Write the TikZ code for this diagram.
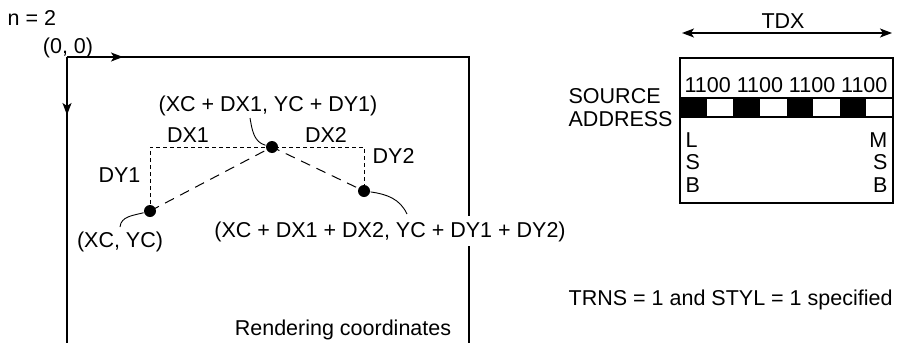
\documentclass[tikz,border=0pt]{standalone}
\usepackage{xcolor}
\usepackage{fontspec}
\setmainfont{Liberation Sans}
\usepackage{tikz}
\usetikzlibrary{arrows.meta, calc, positioning}

\begin{document}
\begin{tikzpicture}[x=1pt, y=1pt, line width=1.3pt,
  lbl/.style={inner sep=0pt, font=\fontsize{21.5}{23}\selectfont},
  dot/.style={circle, fill=black, inner sep=0pt, minimum size=12pt},
  fine/.style={line width=1pt, dash pattern=on 4pt off 3pt},
  longdash/.style={line width=1pt, dash pattern=on 10pt off 7pt},
  lead/.style={line width=0.9pt},
  tip/.style={-{Stealth[length=12pt, width=9pt, inset=3pt]}}]

\useasboundingbox (0,0) rectangle (897,-343);

% Rendering frame
\coordinate (org) at (67,-57);
\draw (org) -- (469,-57) -- (469,-343);
\draw (org) -- (67,-343);
\draw[tip] (org) -- (123,-57);
\draw[tip] (org) -- (67,-115);
\node[lbl, anchor=base west] (nlbl) at (7,-25) {n = 2};
\node[lbl, anchor=base] (olbl) at (68,-53) {(0, 0)};

% Points
\node[dot] (xc) at (150,-211) {};
\node[dot] (mid) at (272,-147) {};
\node[dot] (end) at (364,-191) {};
\coordinate (c1) at (xc |- mid);
\coordinate (c2) at (end |- mid);
\draw[fine] (xc.center) -- (c1) -- (c2) -- (end.center);
\draw[longdash] (xc.center) -- (mid.center) -- (end.center);

\node[lbl, anchor=base] (dx1) at (188,-142) {DX1};
\node[lbl, anchor=base] (dx2) at (326,-142) {DX2};
\node[lbl, anchor=base east] (dy1) at (141,-182) {DY1};
\node[lbl, anchor=base west] (dy2) at (372,-163) {DY2};

\node[lbl, anchor=base] (pmid) at (268,-111) {(XC + DX1, YC + DY1)};
\node[lbl, anchor=base] (pxc) at (120,-247) {(XC, YC)};
\node[lbl, anchor=base, fill=white, inner ysep=5pt] (pend) at (390,-237)
  {(XC + DX1 + DX2, YC + DY1 + DY2)};
\node[lbl, anchor=base] (rend) at (343,-335) {Rendering coordinates};

% Leaders
\coordinate (lm) at (250,-118);
\coordinate (lx) at (120,-227);
\coordinate (le) at (407,-214);
\draw[lead] (lm) to[out=-80, in=165] (mid);
\draw[lead] (xc) to[out=195, in=85] (lx);
\draw[lead] (end) to[out=-8, in=115] (le);

% Source address
\coordinate (tl) at (682,-33);
\coordinate (tr) at (892,-33);
\draw[{Stealth[length=12pt, width=9pt, inset=3pt]}-{Stealth[length=12pt, width=9pt, inset=3pt]}] (tl) -- (tr);
\node[lbl, anchor=base] (tdx) at (783,-28) {TDX};
\draw (680,-58) rectangle (893,-203);
\node[lbl, anchor=base] (bits) at (786,-92) {1100 1100 1100 1100};
\draw (680,-98) rectangle (893,-117);
\foreach \i in {0,2,4,6}
  \fill (680+26.625*\i,-98) rectangle ++(26.625,-19);
\node[lbl, anchor=base west] (src) at (568,-103) {SOURCE};
\node[lbl, anchor=base west] (addr) at ($(src.base west)+(0,-23)$) {ADDRESS};
\foreach \c [count=\i] in {L,S,B}
  \node[lbl, anchor=base west] (lsb\i) at (685,-147-22.5*\i+22.5) {\c};
\foreach \c [count=\i] in {M,S,B}
  \node[lbl, anchor=base east] (msb\i) at (888,-147-22.5*\i+22.5) {\c};

\node[lbl, anchor=base west] (trns) at (568,-305) {TRNS = 1 and STYL = 1 specified};

\end{tikzpicture}
\end{document}
